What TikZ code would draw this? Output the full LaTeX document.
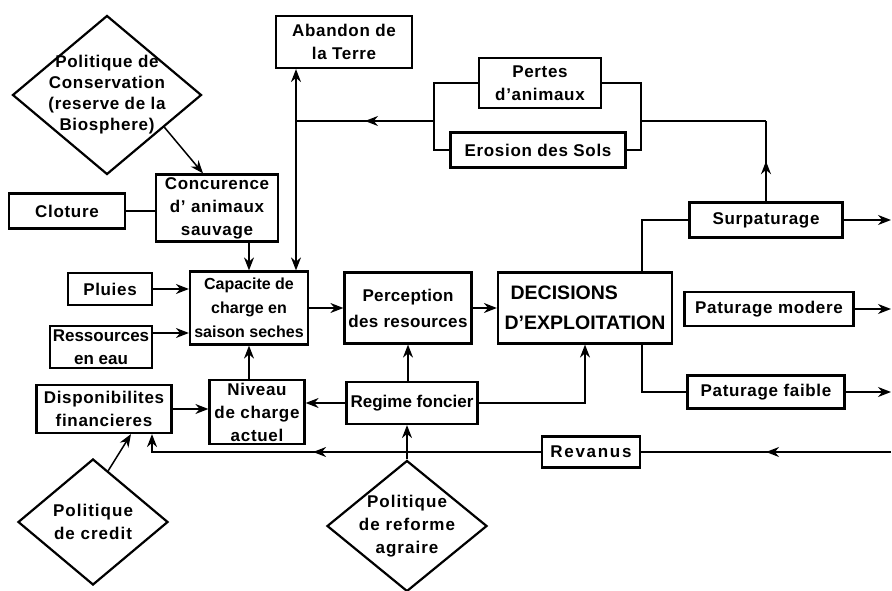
\documentclass[tikz,border=0pt]{standalone}
\usepackage{fontspec}
\setmainfont{Liberation Sans}
\usetikzlibrary{arrows.meta,shapes.geometric,decorations.markings,calc}
\tikzset{
    > = {Stealth[length=13pt, width=10pt]},
    boite/.style = {draw, line width=2.2pt, align=center, inner sep=0pt,
        font=\bfseries\fontsize{17}{23}\selectfont\addfontfeature{LetterSpace=4}},
    losange/.style = {draw, diamond, line width=2.2pt, align=center,
        font=\bfseries\fontsize{17}{21}\selectfont\addfontfeature{LetterSpace=4}},
    milieu/.style = {postaction={decorate}, decoration={markings,
        mark=at position #1 with {\arrow{>}}}},
    milieu/.default = 0.5
}

\begin{document}
\begin{tikzpicture}[x=1pt, y=-1pt, line width=1.5pt]
    \useasboundingbox (0,0) rectangle (892,591);

    % facteurs externes
    \node[losange, minimum width=189pt, minimum height=159pt, aspect=1.19, inner sep=-8pt] (conservation) at (107,95)
        {Politique de\\Conservation\\(reserve de la\\Biosphere)};
    \node[losange, minimum width=150pt, minimum height=126pt, aspect=1.19, inner sep=-4pt,
        font=\bfseries\fontsize{17}{23}\selectfont\addfontfeature{LetterSpace=6}] (credit) at (93,522)
        {Politique\\de credit};
    \node[losange, minimum width=160pt, minimum height=131pt, aspect=1.22, inner sep=-6pt,
        font=\bfseries\fontsize{17}{23}\selectfont\addfontfeature{LetterSpace=6}] (reforme) at (407,526)
        {Politique\\de reforme\\agraire};

    % boites
    \node[boite, minimum width=136pt, minimum height=52pt] (abandon) at (344,42) {Abandon de\\la Terre};
    \node[boite, minimum width=122pt, minimum height=50pt] (pertes) at (540,83) {Pertes\\d'animaux};
    \node[boite, minimum width=175pt, minimum height=35pt] (erosion) at (538,150) {Erosion des Sols};
    \node[boite, minimum width=122pt, minimum height=67pt] (concurence) at (217,208) {Concurence\\d' animaux\\sauvage};
    \node[boite, minimum width=116pt, minimum height=35pt] (cloture) at (67,211) {Cloture};
    \node[boite, minimum width=118pt, minimum height=73pt,
        font=\bfseries\fontsize{16}{24}\selectfont] (capacite) at (249,308) {Capacite de\\charge en\\saison seches};
    \node[boite, minimum width=84pt, minimum height=32pt] (pluies) at (110,289) {Pluies};
    \node[boite, minimum width=102pt, minimum height=42pt,
        font=\bfseries\fontsize{17}{23}\selectfont] (ressources) at (101,347) {Ressources\\en eau};
    \node[boite, minimum width=135pt, minimum height=48pt] (dispo) at (104,409) {Disponibilites\\financieres};
    \node[boite, minimum width=95pt, minimum height=64pt] (niveau) at (257,412) {Niveau\\de charge\\actuel};
    \node[boite, minimum width=131pt, minimum height=42pt,
        font=\bfseries\fontsize{17}{23}\selectfont] (regime) at (412,403) {Regime foncier};
    \node[boite, minimum width=127pt, minimum height=71pt,
        font=\bfseries\fontsize{17}{26}\selectfont\addfontfeature{LetterSpace=2}] (perception) at (408,308) {Perception\\des resources};
    \node[boite, minimum width=174pt, minimum height=71pt, align=left,
        font=\bfseries\fontsize{19.5}{30}\selectfont] (decisions) at (585,308) {\hspace{6pt}DECISIONS\\D'EXPLOITATION};
    \node[boite, minimum width=153pt, minimum height=35pt] (surpat) at (766,220) {Surpaturage};
    \node[boite, minimum width=169pt, minimum height=34pt] (modere) at (769,309) {Paturage modere};
    \node[boite, minimum width=157pt, minimum height=33pt] (faible) at (766,392) {Paturage faible};
    \node[boite, minimum width=98pt, minimum height=31pt,
        font=\bfseries\fontsize{17}{23}\selectfont\addfontfeature{LetterSpace=10}] (revanus) at (591,452) {Revanus};

    \coordinate (jonction) at (296,121);
    \coordinate (gauche) at (434,121);
    \coordinate (droite) at (641,121);
    \coordinate (bord) at (891,0);

    % pertes et erosion
    \draw (pertes.west) -| (gauche) |- (erosion.west);
    \draw (pertes.east) -| (droite) |- (erosion.east);
    \draw[milieu] (gauche) -- (jonction);
    \draw[->] (jonction) -- (jonction |- abandon.south);
    \draw[->] (jonction) -- (jonction |- capacite.north);
    \draw[milieu] (surpat.north) -- (surpat.north |- droite);
    \draw (surpat.north |- droite) -- (droite);

    % entrees de la capacite
    \draw[->] ($(conservation.east)!0.4!(conservation.south)$) -- ([xshift=-14pt]concurence.north);
    \draw (cloture) -- (cloture -| concurence.west);
    \draw[->] (concurence.south -| capacite.north) -- (capacite.north);
    \draw[->] (pluies) -- (pluies -| capacite.west);
    \draw[->] ([yshift=14pt]ressources.east) -- ([yshift=14pt]ressources.east -| capacite.west);
    \draw[->] (dispo) -- (dispo -| niveau.west);
    \draw[->] (capacite.south |- niveau.north) -- (capacite.south);
    \draw[->] (regime) -- (regime -| niveau.east);
    \draw[->] ($(credit.north)!0.2!(credit.east)$) -- ([xshift=27pt]dispo.south);

    % chaine de decision
    \draw[->] (capacite) -- (capacite -| perception.west);
    \draw[->] (perception) -- (decisions);
    \draw[->] (perception.south |- regime.north) -- (perception.south);
    \draw[->] (regime.east) -| (decisions.south);
    \draw[->] (reforme.north) -- (reforme.north |- regime.south);
    \draw ([xshift=57pt]decisions.north) |- (surpat.west);
    \draw ([xshift=57pt]decisions.south) |- (faible.west);

    % sorties
    \draw[->] (surpat) -- (surpat -| bord);
    \draw[->] (modere) -- (modere -| bord);
    \draw[->] (faible) -- (faible -| bord);
    \draw[milieu] (bord |- revanus) -- (revanus);
    \draw[->, milieu=0.56] (revanus.west) -| ([xshift=48pt]dispo.south);
\end{tikzpicture}
\end{document}
